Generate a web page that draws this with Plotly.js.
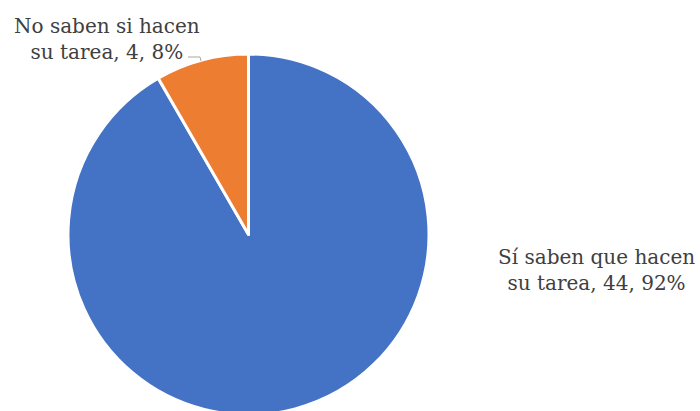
<!DOCTYPE html>
<html>
<head>
<meta charset="utf-8">
<script src="https://cdn.plot.ly/plotly-3.0.1.min.js"></script>
<style>html,body{margin:0;padding:0;background:#fff;overflow:hidden;}#chart{width:700px;height:415px;}</style>
</head>
<body>
<div id="chart"></div>
<script>
const categories = ["Sí saben que hacen su tarea", "No saben si hacen su tarea"];
const labelLines = [["Sí saben que hacen", "su tarea"], ["No saben si hacen", "su tarea"]];
const values = [44, 4];
const colors = ["#4472C4", "#ED7D31"];

const total = values.reduce((a, b) => a + b, 0);
const labelText = labelLines.map((l, i) =>
  l[0] + "<br>" + l[1] + ", " + values[i] + ", " + Math.round(values[i] / total * 100) + "%");

const W = 700, H = 415;
const font = {family: "DejaVu Serif", size: 20, color: "#404040"};

const trace = {
  type: "pie",
  labels: categories,
  values: values,
  sort: false,
  direction: "clockwise",
  rotation: 0,
  textinfo: "none",
  hoverinfo: "none",
  marker: {colors: colors, line: {color: "#ffffff", width: 3}},
  domain: {x: [68 / W, 429 / W], y: [0, 1 - 54 / H]},
  showlegend: false
};

const layout = {
  width: W, height: H,
  margin: {l: 0, r: 0, t: 0, b: 0},
  paper_bgcolor: "#ffffff",
  showlegend: false,
  annotations: [
    {text: labelText[0], xref: "paper", yref: "paper", x: 596 / W, y: 1 - 270 / H,
     xanchor: "center", yanchor: "middle", showarrow: false, align: "center", font: font},
    {text: labelText[1], xref: "paper", yref: "paper", x: 107 / W, y: 1 - 39 / H,
     xanchor: "center", yanchor: "middle", showarrow: false, align: "center", font: font}
  ],
  shapes: [
    {type: "path", xref: "paper", yref: "paper",
     path: "M " + (188 / W) + " " + (1 - 57 / H) + " L " + (200 / W) + " " + (1 - 57 / H) + " L " + (201 / W) + " " + (1 - 61 / H),
     line: {color: "#a6a6a6", width: 1}}
  ]
};

Plotly.newPlot("chart", [trace], layout, {displayModeBar: false, staticPlot: true});
</script>
</body>
</html>
